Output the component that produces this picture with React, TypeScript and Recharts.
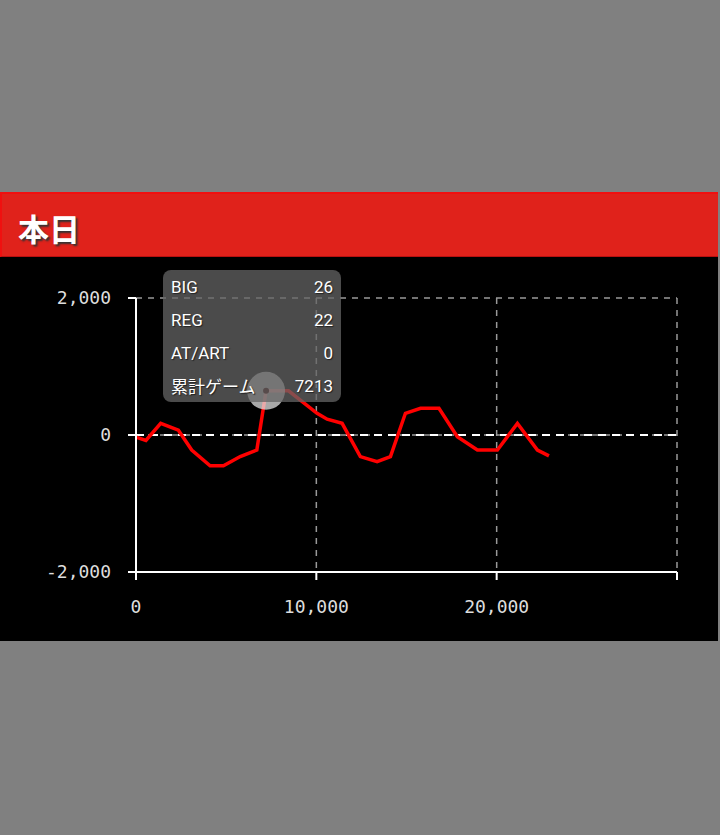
import { LineChart, Line, XAxis, YAxis, CartesianGrid, ReferenceLine, Tooltip } from 'recharts'

const games = [0, 550, 1370, 2350, 3090, 4110, 4850, 5780, 6700, 7213, 8460, 10040, 10600, 11430, 12440, 13370, 14110, 14940, 15780, 16800, 17820, 18930, 20040, 21150, 22260, 22900]
const diff = [-30, -80, 170, 70, -220, -450, -450, -315, -220, 645, 645, 317, 230, 170, -315, -390, -315, 317, 390, 390, -25, -220, -220, 170, -220, -305]
const xTicks = [0, 10000, 20000, 30000]
const yTicks = [-2000, 0, 2000]
const tipLabels = ['BIG', 'REG', 'AT/ART', '累計ゲーム']
const tipValues = ['26', '22', '0', '7213']
const activeIndex = 9

const data = games.map((g, i) => ({ game: g, diff: diff[i] }))

const fmt = (v: number) => (v === 30000 ? '' : v.toLocaleString('en-US'))

function TipBox() {
  return (
    <div
      style={{
        width: 178,
        height: 132,
        boxSizing: 'border-box',
        background: 'rgba(100,100,100,0.75)',
        borderRadius: 8,
        padding: '0 8px',
        fontFamily: 'Roboto, "Noto Sans CJK JP", sans-serif',
        fontSize: 17,
        color: '#fff',
        textShadow: '1px 1px 1px #222',
      }}
    >
      {tipLabels.map((l, i) => (
        <div key={l} style={{ height: 33, display: 'flex', justifyContent: 'space-between', alignItems: 'center' }}>
          <span>{l}</span>
          <span>{tipValues[i]}</span>
        </div>
      ))}
    </div>
  )
}

function ActiveDot(props: any) {
  const { cx, cy } = props
  return (
    <g>
      <circle cx={cx} cy={cy} r={19} fill="rgba(225,225,225,0.75)" />
      <circle cx={cx} cy={cy} r={3} fill="#300" />
    </g>
  )
}

export default function App() {
  const tick = { fill: '#ddd', fontSize: 18, fontFamily: '"DejaVu Sans Mono", monospace' }
  return (
    <div style={{ position: 'fixed', inset: 0, background: '#808080' }}>
      <div
        style={{
          position: 'absolute',
          top: 192,
          left: 0,
          width: 718,
          height: 65,
          boxSizing: 'border-box',
          background: '#e0221b',
          borderTop: '2px solid #f01010',
          borderLeft: '2px solid #f01010',
          borderBottom: '1px solid #b81010',
          display: 'flex',
          alignItems: 'center',
          paddingLeft: 16,
          paddingTop: 4,
          fontFamily: '"Noto Sans CJK JP", sans-serif',
          fontWeight: 'bold',
          fontSize: 31,
          color: '#fff',
          textShadow: '2px 2px 2px #333',
        }}
      >
        本日
      </div>
      <div style={{ position: 'absolute', top: 257, left: 0, width: 718, height: 384, background: '#000' }}>
        <LineChart width={718} height={384} data={data} margin={{ top: 41, right: 41, bottom: 0, left: 0 }}>
          <CartesianGrid stroke="#999" strokeDasharray="6 6" strokeWidth={1.5} />
          <XAxis
            dataKey="game"
            type="number"
            domain={[0, 30000]}
            ticks={xTicks}
            tickFormatter={fmt}
            tick={tick}
            tickSize={8}
            tickMargin={20}
            height={69}
            stroke="#fff"
            strokeWidth={2}
            tickLine={{ stroke: '#fff', strokeWidth: 2 }}
          />
          <YAxis
            type="number"
            domain={[-2000, 2000]}
            ticks={yTicks}
            tickFormatter={(v: number) => v.toLocaleString('en-US')}
            tick={tick}
            tickSize={8}
            tickMargin={17}
            width={136}
            stroke="#fff"
            strokeWidth={2}
            tickLine={{ stroke: '#fff', strokeWidth: 2 }}
          />
          <ReferenceLine y={0} stroke="#fff" strokeDasharray="8 6" strokeWidth={2} />
          <Tooltip
            defaultIndex={activeIndex}
            cursor={false}
            position={{ x: 163, y: 13 }}
            content={() => <TipBox />}
            isAnimationActive={false}
            wrapperStyle={{ outline: 'none' }}
          />
          <Line
            dataKey="diff"
            type="linear"
            stroke="#ff0000"
            strokeWidth={3.5}
            dot={false}
            activeDot={<ActiveDot />}
            isAnimationActive={false}
          />
        </LineChart>
      </div>
    </div>
  )
}
